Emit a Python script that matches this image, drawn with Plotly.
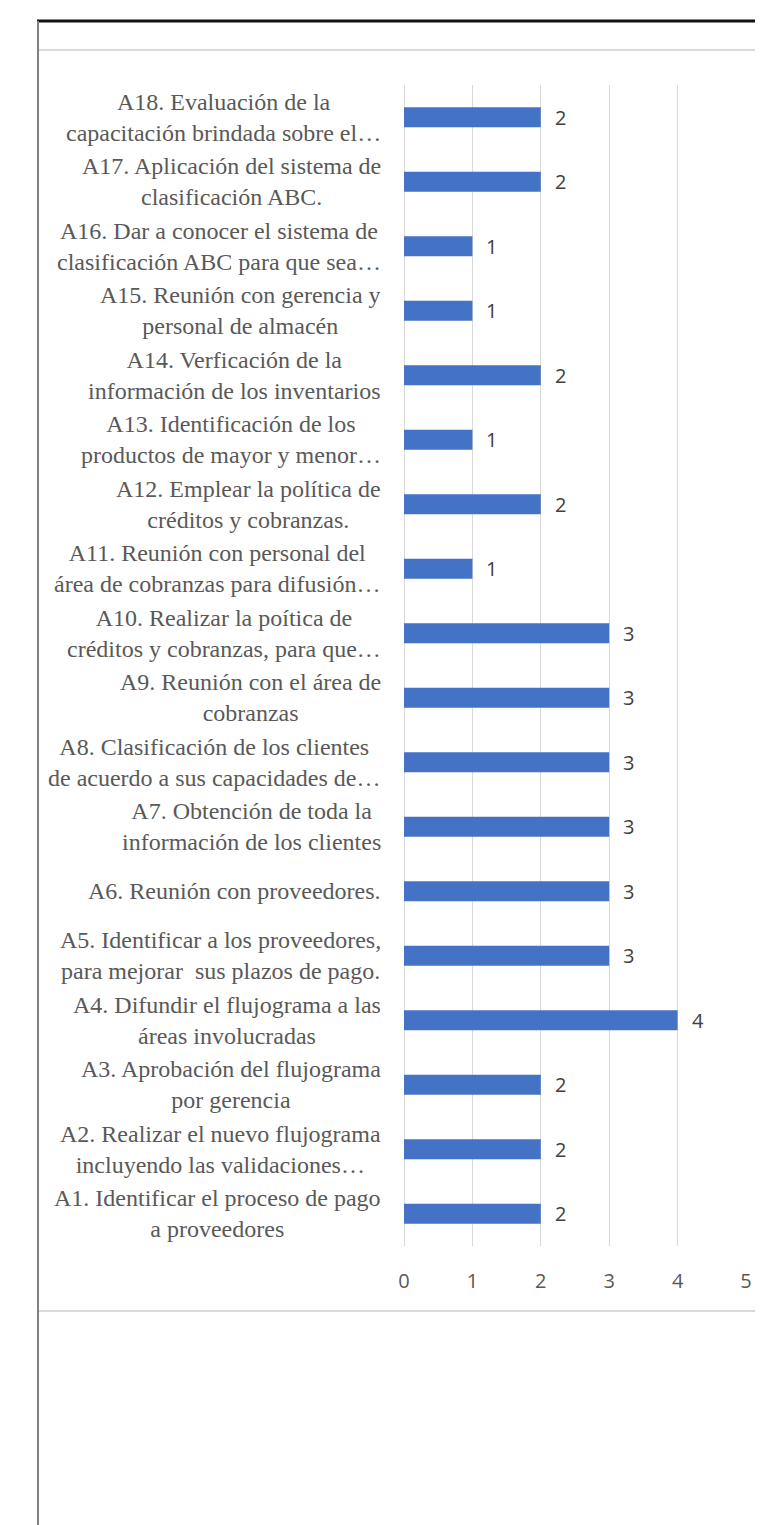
import plotly.graph_objects as go

# activities, bottom (A1) to top (A18)
activity_ids = [f"A{i}" for i in range(1, 19)]
activity_labels = [
    "A1. Identificar el proceso de pago<br>a proveedores",
    "A2. Realizar el nuevo flujograma<br>incluyendo las validaciones…",
    "A3. Aprobación del flujograma<br>por gerencia",
    "A4. Difundir el flujograma a las<br>áreas involucradas",
    "A5. Identificar a los proveedores,<br>para mejorar  sus plazos de pago.",
    "A6. Reunión con proveedores.",
    "A7. Obtención de toda la<br>información de los clientes",
    "A8. Clasificación de los clientes<br>de acuerdo a sus capacidades de…",
    "A9. Reunión con el área de<br>cobranzas",
    "A10. Realizar la poítica de<br>créditos y cobranzas, para que…",
    "A11. Reunión con personal del<br>área de cobranzas para difusión…",
    "A12. Emplear la política de<br>créditos y cobranzas.",
    "A13. Identificación de los<br>productos de mayor y menor…",
    "A14. Verficación de la<br>información de los inventarios",
    "A15. Reunión con gerencia y<br>personal de almacén",
    "A16. Dar a conocer el sistema de<br>clasificación ABC para que sea…",
    "A17. Aplicación del sistema de<br>clasificación ABC.",
    "A18. Evaluación de la<br>capacitación brindada sobre el…",
]
durations = [2, 2, 2, 4, 3, 3, 3, 3, 3, 3, 1, 2, 1, 2, 1, 1, 2, 2]
x_ticks = [0, 1, 2, 3, 4, 5]

W, H = 763, 1525
L, R, T, B = 396, 25, 77, 287
plot_w = W - L - R
plot_h = H - T - B


def px_x(p):
    return (p - L) / plot_w


def px_y(p):
    return (H - B - p) / plot_h


fig = go.Figure(go.Bar(
    x=durations,
    y=activity_ids,
    orientation="h",
    marker=dict(color="#4472C4", line=dict(width=0)),
    hoverinfo="skip",
))

# value labels next to each bar
for aid, val in zip(activity_ids, durations):
    fig.add_annotation(
        x=val, y=aid, xref="x", yref="y",
        text=str(val), showarrow=False,
        xanchor="left", xshift=12,
        font=dict(family="Open Sans", size=20, color="#404040"),
    )

# category labels, centred lines like the original
for aid, lab in zip(activity_ids, activity_labels):
    fig.add_annotation(
        x=px_x(375), y=aid, xref="paper", yref="y",
        text=lab, showarrow=False,
        xanchor="right", yanchor="middle", align="center",
        font=dict(family="Liberation Serif", size=24, color="#595959"),
    )

# frame lines of the screenshot
line_gray = dict(color="#d9d9d9", width=2)
fig.add_shape(type="line", xref="paper", yref="paper",
              x0=px_x(29), x1=px_x(W), y0=px_y(13), y1=px_y(13),
              line=dict(color="#111111", width=3))
fig.add_shape(type="line", xref="paper", yref="paper",
              x0=px_x(30), x1=px_x(30), y0=px_y(13), y1=px_y(H),
              line=dict(color="#808080", width=2))
fig.add_shape(type="line", xref="paper", yref="paper",
              x0=px_x(31), x1=px_x(W), y0=px_y(42), y1=px_y(42),
              line=line_gray)
fig.add_shape(type="line", xref="paper", yref="paper",
              x0=px_x(31), x1=px_x(W), y0=px_y(1303), y1=px_y(1303),
              line=line_gray)

fig.update_layout(
    width=W, height=H,
    margin=dict(l=L, r=R, t=T, b=B, pad=0),
    paper_bgcolor="white",
    plot_bgcolor="white",
    showlegend=False,
    bargap=0.69,
)
fig.update_xaxes(
    range=[0, 5],
    tickvals=x_ticks,
    showgrid=True, gridcolor="#d9d9d9", gridwidth=1,
    zeroline=True, zerolinecolor="#d9d9d9", zerolinewidth=1,
    showline=False,
    ticklabelstandoff=21,
    tickfont=dict(family="Open Sans", size=20, color="#595959"),
)
fig.update_yaxes(
    type="category",
    categoryorder="array", categoryarray=activity_ids,
    range=[-0.5, 17.5],
    showticklabels=False,
    showgrid=False, zeroline=False, showline=False,
)

fig.write_html("out.html")
